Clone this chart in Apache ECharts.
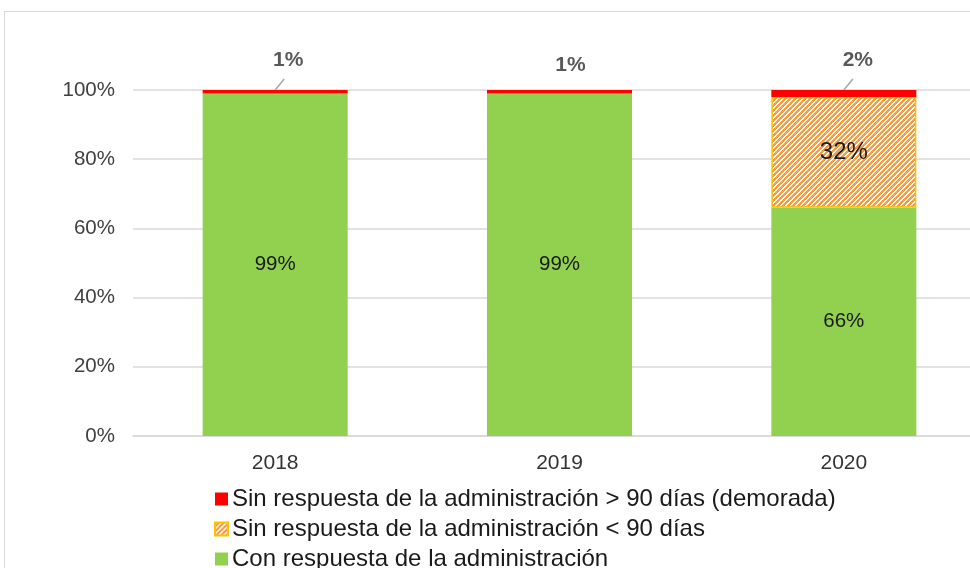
<!DOCTYPE html>
<html lang="es">
<head>
    <meta charset="UTF-8">
    <title>Respuesta de la administración</title>
    <script src="https://cdn.jsdelivr.net/npm/echarts@6/dist/echarts.min.js"></script>
    <style>
        html, body { margin: 0; padding: 0; background: #fff; overflow: hidden; }
        #frame { position: absolute; left: 4px; top: 11px; width: 1000px; height: 600px; border: 1.5px solid #d9d9d9; }
        #main { position: absolute; left: 0; top: 0; width: 970px; height: 568px; }
    </style>
</head>
<body>
<div id="frame"></div>
<div id="main"></div>

<script>
    // datos
    var years = ['2018', '2019', '2020'];
    var conRespuesta = [99, 99, 66];
    var sinRespMenos90 = [0, 0, 32];
    var sinRespMas90 = [1, 1, 2];
    var yTicks = [0, 20, 40, 60, 80, 100];

    var nameRed = 'Sin respuesta de la administración > 90 días (demorada)';
    var nameOrange = 'Sin respuesta de la administración < 90 días';
    var nameGreen = 'Con respuesta de la administración';

    // trama rayada naranja/blanca
    var tile = document.createElement('canvas');
    tile.width = 5; tile.height = 5;
    var ctx = tile.getContext('2d');
    ctx.fillStyle = '#ff9a3c';
    ctx.fillRect(0, 0, 5, 5);
    ctx.fillStyle = '#ffffff';
    for (var x = 0; x < 5; x++) {
        for (var y = 0; y < 5; y++) {
            var k = (x + y) % 5;
            if (k === 0 || k === 1) ctx.fillRect(x, y, 1, 1);
        }
    }

    // desplazamiento de etiquetas de la serie roja
    var redOffsets = [[13, -14], [11, -9], [14, -14]];
    var redLines = [true, false, true];

    // líneas guía: desde la cima de la barra apilada
    var leaderData = [];
    years.forEach(function (y, i) {
        if (redLines[i]) leaderData.push([i, conRespuesta[i] + sinRespMenos90[i] + sinRespMas90[i]]);
    });

    var myChart = echarts.init(document.getElementById('main'));
    myChart.setOption({
        animation: false,
        textStyle: { fontFamily: 'Liberation Sans, Arial, sans-serif' },
        grid: { left: 133, width: 853, top: 90, bottom: 132, outerBoundsMode: 'none', containLabel: false },
        legend: {
            orient: 'vertical',
            left: 214,
            top: 487,
            height: 120,
            padding: 0,
            itemWidth: 13,
            itemHeight: 13,
            itemGap: 6,
            icon: 'rect',
            data: [nameRed, nameOrange, nameGreen],
            textStyle: { fontSize: 24, color: '#1a1a1a', lineHeight: 24, padding: [0, 0, 0, -1] }
        },
        xAxis: {
            type: 'category',
            data: years,
            axisLine: { lineStyle: { color: '#d9d9d9', width: 1.5 } },
            axisTick: { show: false },
            axisLabel: { fontSize: 21, color: '#333', margin: 17 }
        },
        yAxis: {
            type: 'value',
            min: yTicks[0],
            max: yTicks[yTicks.length - 1],
            interval: yTicks[1] - yTicks[0],
            axisLine: { show: false },
            axisTick: { show: false },
            axisLabel: { fontSize: 20.5, color: '#404040', margin: 18, formatter: '{value}%' },
            splitLine: { lineStyle: { color: '#d9d9d9', width: 1.5 } }
        },
        series: [
            {
                name: nameGreen,
                type: 'bar',
                stack: 'total',
                barWidth: '51%',
                data: conRespuesta,
                itemStyle: { color: '#92d050' },
                label: {
                    show: true,
                    position: 'inside',
                    fontSize: 20.5,
                    color: '#1a1a1a',
                    formatter: '{c}%'
                }
            },
            {
                name: nameOrange,
                type: 'bar',
                stack: 'total',
                data: sinRespMenos90.map(function (v) { return v === 0 ? '-' : v; }),
                itemStyle: {
                    color: { image: tile, repeat: 'repeat' },
                    borderColor: '#ffc000',
                    borderWidth: 1.5
                },
                label: {
                    show: true,
                    position: 'inside',
                    fontSize: 24,
                    color: '#1a1a1a',
                    formatter: '{c}%'
                }
            },
            {
                name: nameRed,
                type: 'bar',
                stack: 'total',
                data: sinRespMas90,
                itemStyle: { color: '#ff0000' },
                label: {
                    show: true,
                    position: 'top',
                    distance: 5,
                    fontSize: 21,
                    fontWeight: 'bold',
                    color: '#595959',
                    formatter: '{c}%'
                },
                labelLayout: function (params) {
                    var o = redOffsets[params.dataIndex];
                    return { dx: o[0], dy: o[1] };
                }
            },
            {
                // línea guía diagonal hacia la etiqueta
                type: 'custom',
                data: leaderData,
                silent: true,
                z: 5,
                renderItem: function (params, api) {
                    var p = api.coord([api.value(0), api.value(1)]);
                    return {
                        type: 'line',
                        shape: { x1: p[0], y1: p[1], x2: p[0] + 9, y2: p[1] - 11 },
                        style: { stroke: '#a6a6a6', lineWidth: 1.5 }
                    };
                }
            }
        ]
    });
</script>
</body>
</html>
